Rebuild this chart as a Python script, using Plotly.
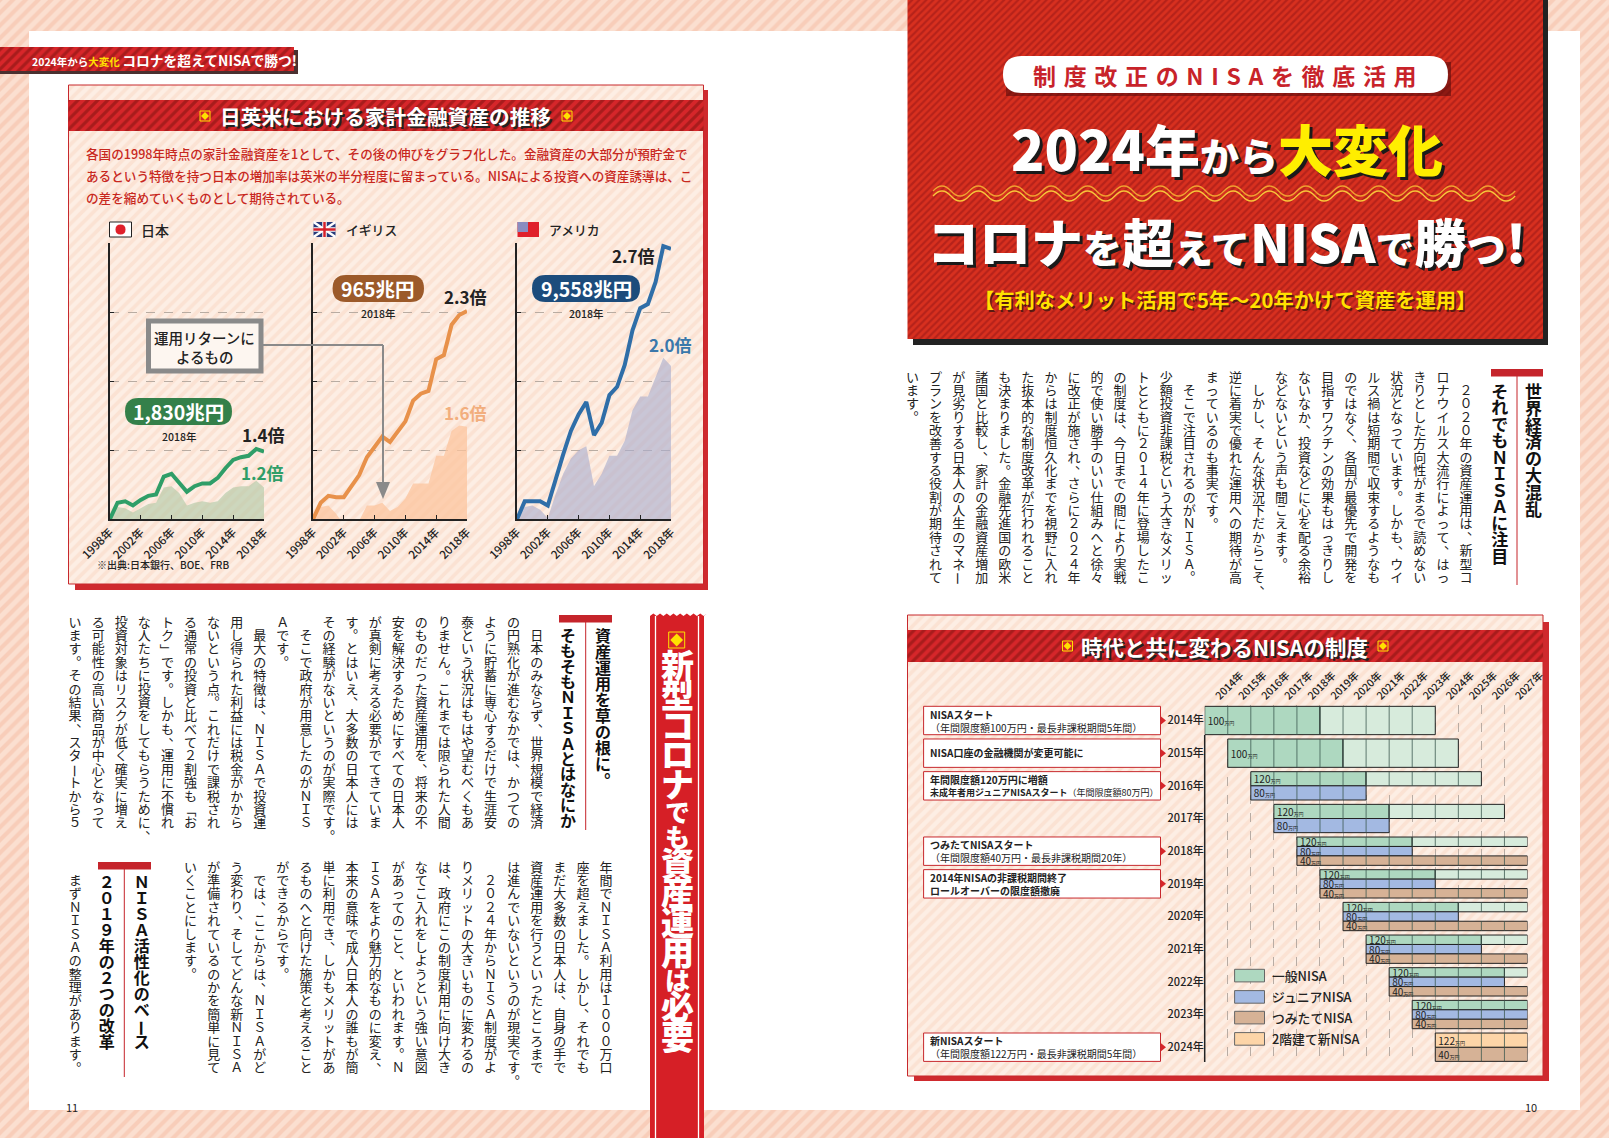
import plotly.graph_objects as go

# ---------- chart data ----------
YEARS = list(range(1998, 2019))
TICK_YEARS = [1998, 2002, 2006, 2010, 2014, 2018]
JP_TOTAL = [1.00,1.12,1.13,1.10,1.14,1.17,1.18,1.31,1.33,1.27,1.20,1.24,1.26,1.26,1.30,1.37,1.43,1.45,1.46,1.51,1.49]
JP_RETURN = [1.00,1.09,1.08,1.05,1.08,1.11,1.12,1.23,1.24,1.19,1.10,1.12,1.13,1.12,1.13,1.19,1.23,1.24,1.24,1.28,1.23]
UK_TOTAL = [1.00,1.12,1.17,1.16,1.16,1.24,1.32,1.45,1.53,1.60,1.56,1.64,1.71,1.86,1.91,1.93,2.16,2.19,2.41,2.48,2.51]
UK_RETURN = [1.00,1.09,1.10,1.04,0.96,0.96,0.99,1.10,1.10,1.12,1.06,1.09,1.15,1.26,1.26,1.26,1.46,1.46,1.64,1.68,1.67]
US_TOTAL = [1.00,1.13,1.13,1.13,1.10,1.29,1.47,1.64,1.76,1.85,1.61,1.70,1.90,1.96,2.12,2.37,2.53,2.56,2.72,2.98,2.96]
US_RETURN = [1.00,1.09,1.10,1.07,1.01,1.18,1.33,1.44,1.50,1.53,1.24,1.33,1.46,1.46,1.57,1.79,1.89,1.89,2.03,2.17,2.11]

ROW_YEARS = list(range(2014, 2025))
COL_YEARS = list(range(2014, 2028))
GENERAL_START = list(range(2014, 2024))
GENERAL_LIMIT = [100, 100, 120, 120, 120, 120, 120, 120, 120, 120]
GENERAL_ACTIVE_YEARS = [5, 5, 5, 5, 5, 5, 5, 5, 5, 5]
GENERAL_REST_YEARS = [5, 5, 5, 5, 5, 4, 3, 2, 1, 0]
JUNIOR_START = list(range(2016, 2024))
JUNIOR_LIMIT = [80] * 8
JUNIOR_YEARS = [5] * 8
TSUMITATE_START = list(range(2018, 2025))
TSUMITATE_LIMIT = [40] * 7
TSUMITATE_YEARS = [10, 9, 8, 7, 6, 5, 4]
NEW_START = [2024]
NEW_LIMIT = [122]
NEW_YEARS = [4]
LEGEND_NAMES = ["一般NISA", "ジュニアNISA", "つみたてNISA", "2階建て新NISA"]

# ---------- text ----------
LEFT_UPPER = ["　日本のみならず、世界規模で経済","の円熟化が進むなかでは、かつての","ように貯蓄に専心するだけで生涯安",
"泰という状況はもはや望むべくもあ","りません。これまでは限られた人間","のものだった資産運用を、将来の不",
"安を解決するためにすべての日本人","が真剣に考える必要がでてきていま","す。とはいえ、大多数の日本人には",
"その経験がないというのが実際です。","　そこで政府が用意したのがＮＩＳ","Ａです。","　最大の特徴は、ＮＩＳＡで投資運",
"用し得られた利益には税金がかから","ないという点。これだけで課税され","る通常の投資と比べて２割強も「お",
"トク」です。しかも、運用に不慣れ","な人たちに投資をしてもらうために、","投資対象はリスクが低く確実に増え",
"る可能性の高い商品が中心となって","います。その結果、スタートから５"]
LEFT_LOWER = ["年間でＮＩＳＡ利用は１０００万口","座を超えました。しかし、それでも","まだ大多数の日本人は、自身の手で",
"資産運用を行うといったところまで","は進んでいないというのが現実です。","　２０２４年からＮＩＳＡ制度がよ",
"りメリットの大きいものに変わるの","は、政府にこの制度利用に向け大き","なてこ入れをしようという強い意図",
"があってのこと、といわれます。Ｎ","ＩＳＡをより魅力的なものに変え、","本来の意味で成人日本人の誰もが簡",
"単に利用でき、しかもメリットがあ","るものへと向けた施策と考えること","ができるからです。",
"　では、ここからは、ＮＩＳＡがど","う変わり、そしてどんな新ＮＩＳＡ","が準備されているのかを簡単に見て",
"いくことにします。","","","","","　まずＮＩＳＡの整理があります。"]
RIGHT_BODY = ["　２０２０年の資産運用は、新型コ","ロナウイルス大流行によって、はっ","きりとした方向性がまるで読めない",
"状況となっています。しかも、ウイ","ルス禍は短期間で収束するようなも","のではなく、各国が最優先で開発を",
"目指すワクチンの効果もはっきりし","ないなか、投資などに心を配る余裕","などないという声も聞こえます。",
"　しかし、そんな状況下だからこそ、","逆に着実で優れた運用への期待が高","まっているのも事実です。",
"　そこで注目されるのがＮＩＳＡ。","少額投資非課税という大きなメリッ","トとともに２０１４年に登場したこ",
"の制度は、今日までの間により実戦","的で使い勝手のいい仕組みへと徐々","に改正が施され、さらに２０２４年",
"からは制度恒久化までを視野に入れ","た抜本的な制度改革が行われること","も決まりました。金融先進国の欧米",
"諸国と比較し、家計の金融資産増加","が見劣りする日本人の人生のマネー","プランを改善する役割が期待されて","います。"]

FONT = "Noto Sans CJK JP"
W, H = 1609, 1138
RED = "#d6262a"
fig = go.Figure()
shapes, notes = [], []


def box(x0, y0, x1, y1, color, fg=None, size=7, line=None, lw=0):
    kw = {}
    if fg:
        kw["fillpattern"] = dict(shape="/", fgcolor=fg, bgcolor=color, size=size, solidity=0.45)
    fig.add_trace(go.Scatter(x=[x0, x1, x1, x0, x0], y=[y0, y0, y1, y1, y0], mode="lines", fill="toself",
                             fillcolor=color, line=dict(width=lw, color=line or color), hoverinfo="skip",
                             showlegend=False, **kw))


def note(x, y, text, size=12, color="#222", anchor="center", weight=400, shadow=None, angle=0):
    f = dict(family=FONT, size=size, color=color, weight=weight)
    if shadow:
        f["shadow"] = shadow
    notes.append(dict(x=x, y=y, xref="x", yref="y", text=text, showarrow=False, xanchor=anchor,
                      yanchor="middle", font=f, textangle=angle, align="left" if anchor == "left" else "center"))


def rect(x0, y0, x1, y1, fill="rgba(0,0,0,0)", line=None, lw=0):
    shapes.append(dict(type="rect", xref="x", yref="y", x0=x0, y0=y0, x1=x1, y1=y1, fillcolor=fill,
                       line=dict(color=line or fill, width=lw), layer="above"))


def path(d, fill="rgba(0,0,0,0)", line=None, lw=0, dash=None):
    ln = dict(color=line or "rgba(0,0,0,0)", width=lw)
    if dash:
        ln["dash"] = dash
    shapes.append(dict(type="path", xref="x", yref="y", path=d, fillcolor=fill, line=ln, layer="above"))


def hline(x0, y0, x1, y1, color, lw=1):
    shapes.append(dict(type="line", xref="x", yref="y", x0=x0, y0=y0, x1=x1, y1=y1,
                       line=dict(color=color, width=lw), layer="above"))


def pill(x0, y0, x1, y1, color, line=None, lw=0):
    r = (y1 - y0) / 2
    d = (f"M{x0+r},{y0} L{x1-r},{y0} Q{x1},{y0} {x1},{y0+r} Q{x1},{y1} {x1-r},{y1} "
         f"L{x0+r},{y1} Q{x0},{y1} {x0},{y0+r} Q{x0},{y0} {x0+r},{y0} Z")
    path(d, color, line, lw)


def diamond(cx, cy, s):
    rect(cx - s, cy - s, cx + s, cy + s, RED, "#ffe100", 1)
    path(f"M{cx-s*.8},{cy} L{cx},{cy-s*.8} L{cx+s*.8},{cy} L{cx},{cy+s*.8} Z", "#ffe100")


vpoints = {}


def vcol(text, x, top, pitch, size, color="#222", weight=400):
    key = (size, color, weight)
    xs, ys, cs = vpoints.setdefault(key, ([], [], []))
    for i, c in enumerate(text):
        y = top + pitch * (i + 0.5)
        if c == "　":
            continue
        if c in "ー「」":
            note(x, y, c, size, color, weight=weight, angle=90)
        elif c in "、。":
            xs.append(x + size * 0.58); ys.append(y - size * 0.58); cs.append(c)
        else:
            xs.append(x); ys.append(y); cs.append(c)


def flush_vtext():
    for (size, color, weight), (xs, ys, cs) in vpoints.items():
        fig.add_trace(go.Scatter(x=xs, y=ys, text=cs, mode="text", textposition="middle center",
                                 textfont=dict(family=FONT, size=size, color=color, weight=weight),
                                 hoverinfo="skip", showlegend=False))


# ---------- page ----------
box(0, 0, W, H, "#fbdfd0", "#f8cdb9", 9)
box(29, 31, 1580, 1110, "#ffffff")

# tab
box(0, 50, 298, 74, "#4a3030")
box(0, 47, 294, 71, "#d8262a", "#a81c1c", 7)
note(30, 60, '<span style="font-size:10.5px">2024年から<span style="color:#ffe100">大変化</span> </span>コロナを超えてNISAで勝つ!',
     13.8, "#ffffff", "left", 700)

# panel 1
box(75, 90, 708, 590, "#cf2a2e")
box(68.5, 85, 703.5, 584, "#fdeee4", "#fbe2d3", 8, "#c7282d", 1)
box(68.5, 100, 703.5, 131, RED, "#a81c1c", 7)
note(385.5, 115.5, "日英米における家計金融資産の推移", 20.7, "#ffffff", weight=700, shadow="2px 2px 0 #222")
diamond(205, 116, 5)
diamond(567, 116, 5)
note(84, 153, "各国の1998年時点の家計金融資産を1として、その後の伸びをグラフ化した。金融資産の大部分が預貯金で", 12.6, "#c8281e", "left", 500)
note(84, 175, "あるという特徴を持つ日本の増加率は英米の半分程度に留まっている。NISAによる投資への資産誘導は、こ", 12.6, "#c8281e", "left", 500)
note(84, 197, "の差を縮めていくものとして期待されている。", 12.6, "#c8281e", "left", 500)

# panel 2
box(914, 622, 1549, 1081, "#cf2a2e")
box(907.5, 615, 1543, 1076, "#fdeee4", "#fbe2d3", 8, "#c7282d", 1)
box(907.5, 630, 1543, 662, RED, "#a81c1c", 7)
note(1224, 646, "時代と共に変わるNISAの制度", 21.5, "#ffffff", weight=700, shadow="2px 2px 0 #222")
diamond(1067.5, 646, 5)
diamond(1383, 646, 5)

# title block
box(913, 0, 1548, 345, "#222222")
box(907.5, 0, 1543, 339, "#d8301f", "#b6221a", 5)
path("M1006,62 L1451,62 L1451,96 L1006,96 Z", "rgba(80,10,10,0.55)")
pill(1003, 56, 1448, 93, "#ffffff")
note(1225, 74.5, "\u2004".join("制度改正のNISAを徹底活用"), 23, "#c8232a", weight=700)
note(1227, 147, '2024年<span style="font-size:39px">から</span><span style="color:#ffee00">大変化</span>', 55, "#ffffff",
     weight=900, shadow="3px 3px 0 #1a1a1a")
note(1226, 240, 'コロナ<span style="font-size:39px">を</span>超<span style="font-size:39px">えて</span>NISA<span style="font-size:39px">で</span>勝<span style="font-size:39px">つ</span>!',
     52, "#ffffff", weight=900, shadow="3px 3px 0 #1a1a1a")
note(1225, 299, "【有利なメリット活用で5年～20年かけて資産を運用】", 20.3, "#ffe100", weight=700, shadow="1.5px 1.5px 0 #5a1a10")
# wavy rule
for offs, col in ((0, "#f0a030"), (5, "#f7c53a")):
    d = f"M933,{191+offs} Q942,{181+offs} 951,{191+offs}"
    for k in range(1, 32):
        d += f" T{951+k*18.2},{191+offs}"
    path(d, "rgba(0,0,0,0)", col, 1.3)

# vertical ribbon
rib_x = [650]
rib_y = [1138]
for k in range(0, 9):
    rib_x += [650 + k * 6.7, 650 + (k + .5) * 6.7]
    rib_y += [616, 613.5]
rib_x += [704, 704, 650]
rib_y += [616, 1138, 1138]
fig.add_trace(go.Scatter(x=rib_x, y=rib_y, mode="lines", fill="toself", fillcolor="#d61f26",
                         line=dict(width=0, color="#d61f26"), hoverinfo="skip", showlegend=False))
hline(655.5, 616, 655.5, 1138, "#ffffff", 1.3)
hline(698.5, 616, 698.5, 1138, "#ffffff", 1.3)
diamond(676.7, 640, 8)
ribbon_chars = [("新", 33), ("型", 33), ("コ", 33), ("ロ", 33), ("ナ", 33), ("で", 25), ("も", 25), ("資", 33),
                ("産", 33), ("運", 33), ("用", 33), ("は", 25), ("必", 33), ("要", 33)]
ry = 655
for ch, s in ribbon_chars:
    adv = s * (0.9 if s > 30 else 0.98)
    vcol(ch, 677.5, ry, adv, s, "#ffffff", 900)
    ry += adv

# heading bars
for bx0, bx1, by, lx, ly1 in ((559, 612, 615, 585.7, 830), (98, 151, 862, 124.3, 1077), (1491, 1543, 369, 1517, 585)):
    box(bx0, by, bx1, by + 7.5, "#c5242b")
    hline(lx, by + 7, lx, ly1, "#c5242b", 1)

# body text
for i, t in enumerate(LEFT_UPPER):
    vcol(t, 536.7 - 23.08 * i, 616.7, 13.38, 13)
for i, t in enumerate(LEFT_LOWER):
    vcol(t, 606 - 23.08 * i, 861.7, 13.38, 13)
for i, t in enumerate(RIGHT_BODY):
    vcol(t, 1466 - 23.06 * i, 371.7, 13.35, 13)
vcol("資産運用を草の根に。", 603, 630, 16, 16, "#111", 700)
vcol("そもそもＮＩＳＡとはなにか", 568, 630, 15.4, 16, "#111", 700)
vcol("ＮＩＳＡ活性化のベース", 141.7, 876, 16, 16, "#111", 700)
vcol("２０１９年の２つの改革", 106.7, 876, 16, 16, "#111", 700)
vcol("世界経済の大混乱", 1533.4, 385, 16.9, 17, "#111", 700)
vcol("それでもＮＩＳＡに注目", 1499.8, 385, 16.5, 17, "#111", 700)
flush_vtext()
note(72, 1107, "11", 11, "#222")
note(1531, 1107, "10", 11, "#222")

# ---------- line charts ----------
charts = [
    ("2", 109.8, 264, JP_TOTAL, JP_RETURN, "#2f9e68", "rgba(176,200,165,0.62)"),
    ("3", 313, 467, UK_TOTAL, UK_RETURN, "#e8914a", "rgba(252,196,155,0.72)"),
    ("4", 517, 671, US_TOTAL, US_RETURN, "#2f6ea8", "rgba(170,172,205,0.62)"),
]
layout_axes = {}
for n, x0, x1, total, ret, col, area in charts:
    fig.add_trace(go.Scatter(x=YEARS, y=ret, xaxis="x" + n, yaxis="y" + n, mode="lines", fill="tozeroy",
                             fillcolor=area, line=dict(width=0, color=area), name="運用リターンによるもの", showlegend=False))
    fig.add_trace(go.Scatter(x=YEARS, y=total, xaxis="x" + n, yaxis="y" + n, mode="lines",
                             line=dict(width=4, color=col), cliponaxis=False, name="家計金融資産", showlegend=False))
    layout_axes["xaxis" + n] = dict(domain=[x0 / W, x1 / W], range=[1998, 2018], anchor="y" + n, showgrid=False,
                                    zeroline=False, showline=True, linecolor="#222", linewidth=1.5,
                                    tickvals=TICK_YEARS, ticktext=[f"{y}年" for y in TICK_YEARS], tickangle=-45,
                                    ticks="inside", ticklen=5, tickcolor="#222", automargin=False,
                                    tickfont=dict(family=FONT, size=11.5, color="#222", weight=500))
    layout_axes["yaxis" + n] = dict(domain=[1 - 519.3 / H, 1 - 243.3 / H], range=[1, 3], anchor="x" + n,
                                    tickvals=[1, 1.5, 2, 2.5, 3], showticklabels=False, ticks="inside", ticklen=4,
                                    tickcolor="#222", showline=True, linecolor="#222", linewidth=1.5, zeroline=False,
                                    showgrid=True, gridcolor="#b9aca2", griddash="dash", gridwidth=1, automargin=False)

# flags and headings
rect(109.5, 222, 131.5, 237, "#ffffff", "#222", 1)
path("M115.5,229.5 Q115.5,224.5 120.5,224.5 Q125.5,224.5 125.5,229.5 Q125.5,234.5 120.5,234.5 Q115.5,234.5 115.5,229.5 Z", "#e0202a")
note(139, 229.5, "日本", 14, "#222", "left", 500)
rect(313.5, 222, 335.5, 237, "#263a7a")
hline(313.5, 222, 335.5, 237, "#ffffff", 2.5)
hline(335.5, 222, 313.5, 237, "#ffffff", 2.5)
hline(324.5, 222, 324.5, 237, "#ffffff", 4.5)
hline(313.5, 229.5, 335.5, 229.5, "#ffffff", 4.5)
hline(324.5, 222, 324.5, 237, "#d6202a", 2.5)
hline(313.5, 229.5, 335.5, 229.5, "#d6202a", 2.5)
note(344, 229.5, "イギリス", 12.8, "#222", "left", 500)
rect(517.5, 222, 539, 237, "#e0202a")
rect(517.5, 222, 528, 232, "#8a8cc0")
note(547, 229.5, "アメリカ", 12.8, "#222", "left", 500)

# value labels
pill(125, 398, 232, 425, "#34804a")
note(178.5, 411.5, "1,830兆円", 19.5, "#ffffff", weight=700)
note(179, 436, "2018年", 10.5, "#222", weight=500)
note(263, 434, "1.4倍", 17, "#222", weight=700)
note(262, 472, "1.2倍", 17, "#2f9e68", weight=700)
pill(332.6, 275, 424, 302, "#9c5a2a")
note(378.3, 288.5, "965兆円", 19.5, "#ffffff", weight=700)
note(378, 313, "2018年", 10.5, "#222", weight=500)
note(465, 296, "2.3倍", 17, "#222", weight=700)
note(465, 412, "1.6倍", 17, "#f2ae7d", weight=700)
pill(532, 275, 640, 302, "#1c4c7c")
note(586, 288.5, "9,558兆円", 19.5, "#ffffff", weight=700)
note(586, 313, "2018年", 10.5, "#222", weight=500)
note(633, 255, "2.7倍", 17, "#222", weight=700)
note(670, 344, "2.0倍", 17, "#3a78ab", weight=700)
note(95, 564, "※出典:日本銀行、BOE、FRB", 10, "#222", "left", 500)

# callout
hline(263, 345, 383, 345, "#8a8a8a", 2)
hline(383, 345, 383, 490, "#8a8a8a", 2)
path("M376,482 L390,482 L383,499 Z", "#8a8a8a")
rect(148.5, 321, 261, 371, "#fdf6f0", "#8a8a8a", 5)
note(204.5, 337, "運用リターンに", 14.5, "#222", weight=500)
note(204.5, 356, "よるもの", 14.5, "#222", weight=500)

# ---------- NISA schedule ----------
PX, PY0 = 1204.7, 705
ROW0, PITCH, RH = 720.5, 32.67, 0.867
GX1, PY1 = 1527.5, 1062
rows = {r: [] for r in range(len(ROW_YEARS))}
for s, lim, a, b in zip(GENERAL_START, GENERAL_LIMIT, GENERAL_ACTIVE_YEARS, GENERAL_REST_YEARS):
    rows[s - 2014].append(("g", s, lim, a, b))
for s, lim, a in zip(NEW_START, NEW_LIMIT, NEW_YEARS):
    rows[s - 2014].append(("n", s, lim, a, 0))
for s, lim, a in zip(JUNIOR_START, JUNIOR_LIMIT, JUNIOR_YEARS):
    rows[s - 2014].append(("j", s, lim, a, 0))
for s, lim, a in zip(TSUMITATE_START, TSUMITATE_LIMIT, TSUMITATE_YEARS):
    rows[s - 2014].append(("t", s, lim, a, 0))
buckets = {k: dict(x=[], base=[], y=[], w=[], t=[]) for k in ("g", "gl", "j", "t", "n")}
div_x, div_y = [], []
for r, items in rows.items():
    h = RH / len(items)
    for k, (kind, s, lim, a, b) in enumerate(items):
        yc = r - RH / 2 + h * (k + 0.5)
        bk = buckets[kind]
        bk["x"].append(a); bk["base"].append(s); bk["y"].append(yc); bk["w"].append(h)
        bk["t"].append(f'{lim}<span style="font-size:5px">万円</span>')
        if b:
            bl = buckets["gl"]
            bl["x"].append(b); bl["base"].append(s + a); bl["y"].append(yc); bl["w"].append(h); bl["t"].append("")
        for yr in range(s + 1, s + a + b):
            div_x += [yr, yr, None]
            div_y += [yc - h / 2, yc + h / 2, None]
bar_cols = {"g": "#aed8c0", "gl": "#d7ebdc", "j": "#a3b9e2", "t": "#d6b296", "n": "#fdd5a8"}
bar_names = {"g": "一般NISA", "gl": "一般NISA", "j": "ジュニアNISA", "t": "つみたてNISA", "n": "2階建て新NISA"}
for k, bk in buckets.items():
    fig.add_trace(go.Bar(x=bk["x"], base=bk["base"], y=bk["y"], width=bk["w"], orientation="h", xaxis="x5", yaxis="y5",
                         marker=dict(color=bar_cols[k], line=dict(color="#222", width=1)), text=bk["t"],
                         textposition="inside", insidetextanchor="start", constraintext="none", textangle=0,
                         textfont=dict(family=FONT, size=10, color="#222"), name=bar_names[k], showlegend=False))
fig.add_trace(go.Scatter(x=div_x, y=div_y, xaxis="x5", yaxis="y5", mode="lines", connectgaps=False,
                         line=dict(color="#3e5a50", width=0.8), hoverinfo="skip", showlegend=False))
layout_axes["xaxis5"] = dict(domain=[PX / W, GX1 / W], range=[2014, 2028], anchor="y5", side="top", showgrid=False,
                             zeroline=False, tickvals=[y + 0.5 for y in COL_YEARS], ticktext=[f"{y}年" for y in COL_YEARS],
                             tickangle=-45, ticks="", automargin=False, tickfont=dict(family=FONT, size=10.5, color="#222", weight=500),
                             minor=dict(tickvals=list(range(2015, 2029)), showgrid=True, gridcolor="#b8aca4", griddash="dash",
                                        gridwidth=1, ticks=""))
layout_axes["yaxis5"] = dict(domain=[1 - PY1 / H, 1 - PY0 / H], range=[(PY1 - ROW0) / PITCH, (PY0 - ROW0) / PITCH], anchor="x5",
                             showgrid=False, zeroline=False, tickvals=list(range(11)), ticktext=[f"{y}年" for y in ROW_YEARS],
                             ticks="", automargin=False, tickfont=dict(family=FONT, size=11, color="#222", weight=500))
hline(PX, 735, PX, PY1, "#222", 1.5)

# info boxes
INFO = [
    (0, "<b>NISAスタート</b>", "（年間限度額100万円・最長非課税期間5年間）", 10),
    (1, "<b>NISA口座の金融機関が変更可能に</b>", None, 10),
    (2, "<b>年間限度額120万円に増額</b>", "<b>未成年者用ジュニアNISAスタート</b>（年間限度額80万円）", 9),
    (4, "<b>つみたてNISAスタート</b>", "（年間限度額40万円・最長非課税期間20年）", 10),
    (5, "<b>2014年NISAの非課税期間終了</b>", "<b>ロールオーバーの限度額撤廃</b>", 10),
    (10, "<b>新NISAスタート</b>", "（年間限度額122万円・最長非課税期間5年間）", 10),
]
for r, l1, l2, sz in INFO:
    yc = ROW0 + PITCH * r
    rect(923.6, yc - 14.2, 1160.5, yc + 14.2, "#ffffff", "#c7282d", 1)
    path(f"M1161,{yc-4} L1166,{yc} L1161,{yc+4} Z", "#d6262a")
    if l2:
        note(928, yc - 6.5, l1, 10, "#222", "left")
        note(928, yc + 6.5, l2, sz, "#222", "left")
    else:
        note(928, yc - 1, l1, 10, "#222", "left")

# legend
for name, col, y0 in zip(LEGEND_NAMES, ["#aed8c0", "#a3b9e2", "#d6b296", "#fdd5a8"], [969.3, 990.6, 1011.3, 1032.6]):
    rect(1234.6, y0, 1264.5, y0 + 12.6, col, "#666", 1)
    note(1270, y0 + 6.3, name, 12.8, "#222", "left", 500)

fig.update_layout(
    template="none", width=W, height=H, autosize=False, margin=dict(l=0, r=0, t=0, b=0, pad=0),
    paper_bgcolor="#ffffff", plot_bgcolor="rgba(0,0,0,0)", showlegend=False, barmode="overlay",
    font=dict(family=FONT), hovermode=False,
    xaxis=dict(domain=[0, 1], range=[0, W], visible=False, fixedrange=True, automargin=False),
    yaxis=dict(domain=[0, 1], range=[H, 0], visible=False, fixedrange=True, automargin=False),
    shapes=shapes, annotations=notes, **layout_axes,
)
fig.write_html("out.html", config={"displayModeBar": False},
               post_script="document.body.style.margin='0';document.documentElement.style.overflow='hidden';")
